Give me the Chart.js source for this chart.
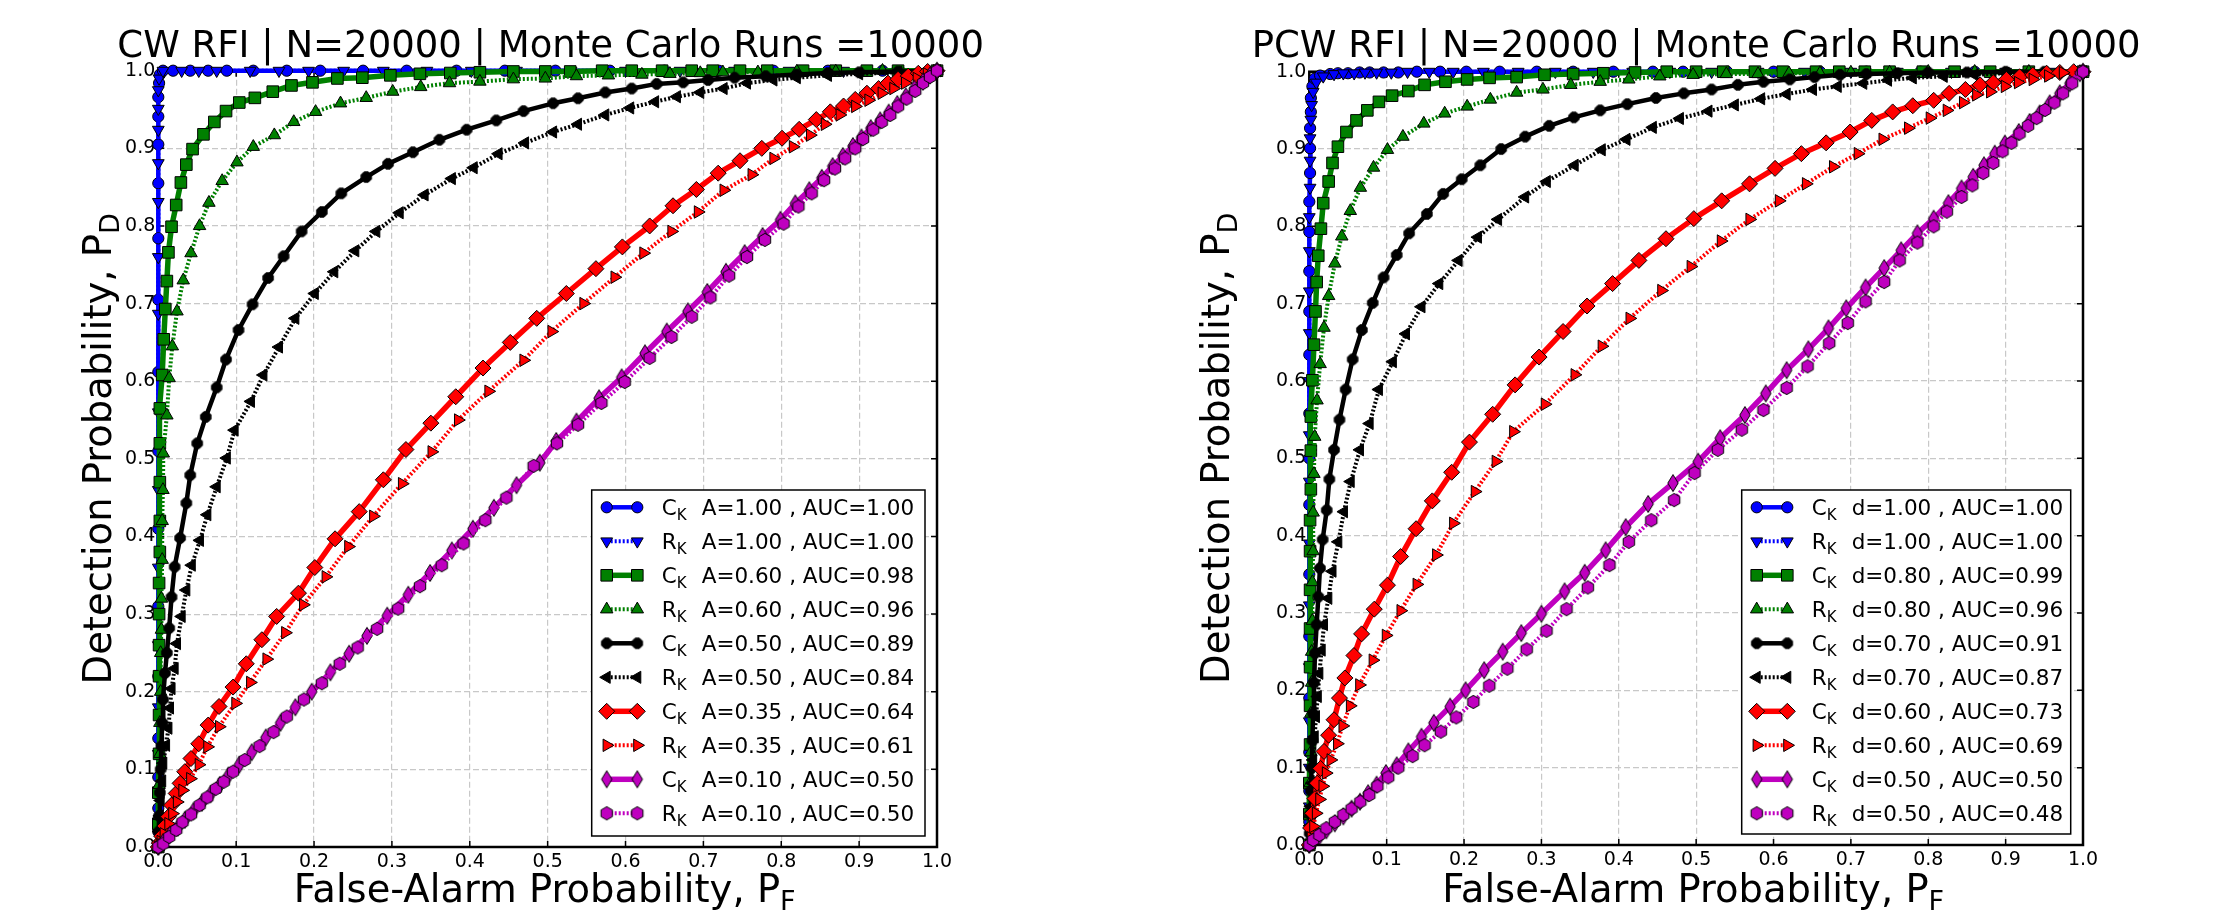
<!DOCTYPE html>
<html>
<head>
<meta charset="utf-8">
<script src="https://cdn.jsdelivr.net/npm/chart.js@4.4.1/dist/chart.umd.min.js"></script>
<style>
  body { margin: 0; background: #fff; }
  canvas { position: absolute; top: 0; }
  #cw { left: 0; }
  #pcw { left: 1110px; }
</style>
</head>
<body>
<canvas id="cw" width="1110" height="916"></canvas>
<canvas id="pcw" width="1110" height="916"></canvas>
<script>
// tick values / labels shared by both axes
const tickValues = [0, 0.1, 0.2, 0.3, 0.4, 0.5, 0.6, 0.7, 0.8, 0.9, 1.0];
const tickLabels = ['0.0', '0.1', '0.2', '0.3', '0.4', '0.5', '0.6', '0.7', '0.8', '0.9', '1.0'];

// ---- CW RFI (left) : [P_F, P_D] pairs ----
const cwCk100 = [[0,0],[0,0.02],[0,0.05],[0,0.09],[0,0.14],[0,0.22],[0,0.31],[0,0.41],[0,0.51],[0,0.612],[0,0.705],[0,0.784],[0,0.855],[0,0.905],[0,0.941],[0,0.966],[0.001,0.984],[0.002,0.995],[0.006,1],[0.019,1],[0.041,1],[0.064,1],[0.088,1],[0.122,1],[0.165,1],[0.208,1],[0.263,1],[0.319,1],[0.383,1],[0.445,1],[0.51,1],[0.58,1],[0.65,1],[0.72,1],[0.79,1],[0.86,1],[0.93,1],[1,1]];
const cwRk100 = [[0,0],[0,0.03],[0,0.07],[0,0.12],[0,0.18],[0,0.26],[0,0.36],[0,0.46],[0,0.56],[0,0.687],[0,0.76],[0,0.831],[0,0.881],[0,0.924],[0,0.951],[0,0.975],[0.001,0.99],[0.006,1],[0.03,1],[0.052,1],[0.075,1],[0.118,1],[0.155,1],[0.193,1],[0.238,1],[0.289,1],[0.345,1],[0.402,1],[0.46,1],[0.53,1],[0.6,1],[0.67,1],[0.74,1],[0.81,1],[0.88,1],[0.95,1],[1,1]];
const cwCk060 = [[0,0],[0,0.03],[0,0.07],[0.001,0.12],[0.001,0.17],[0.001,0.22],[0.001,0.26],[0.001,0.3],[0.001,0.34],[0.002,0.38],[0.002,0.42],[0.002,0.47],[0.002,0.52],[0.002,0.565],[0.005,0.608],[0.007,0.654],[0.009,0.693],[0.011,0.729],[0.013,0.766],[0.017,0.799],[0.023,0.827],[0.029,0.856],[0.036,0.879],[0.044,0.899],[0.058,0.918],[0.072,0.934],[0.087,0.948],[0.104,0.959],[0.124,0.965],[0.147,0.973],[0.171,0.981],[0.198,0.985],[0.23,0.99],[0.262,0.991],[0.298,0.994],[0.336,0.996],[0.375,0.997],[0.413,0.998],[0.456,0.999],[0.497,0.999],[0.529,0.999],[0.57,1],[0.608,1],[0.647,1],[0.685,1],[0.712,1],[0.747,1],[0.782,1],[0.828,1],[0.87,1],[0.91,1],[0.95,1],[1,1]];
const cwRk060 = [[0,0],[0.001,0.04],[0.001,0.08],[0.002,0.12],[0.002,0.16],[0.003,0.2],[0.003,0.25],[0.004,0.28],[0.004,0.32],[0.005,0.37],[0.005,0.42],[0.006,0.46],[0.0064,0.507],[0.011,0.556],[0.014,0.604],[0.018,0.645],[0.024,0.69],[0.032,0.73],[0.042,0.765],[0.053,0.8],[0.065,0.83],[0.082,0.858],[0.101,0.882],[0.122,0.902],[0.149,0.917],[0.174,0.934],[0.202,0.947],[0.234,0.958],[0.267,0.965],[0.301,0.973],[0.337,0.979],[0.374,0.984],[0.413,0.986],[0.456,0.989],[0.497,0.99],[0.537,0.993],[0.578,0.994],[0.621,0.995],[0.657,0.996],[0.696,0.997],[0.725,0.998],[0.77,0.998],[0.82,0.999],[0.87,0.999],[0.93,1],[1,1]];
const cwCk050 = [[0,0],[0.0005,0.02],[0.001,0.04],[0.002,0.07],[0.003,0.1],[0.004,0.13],[0.005,0.16],[0.006,0.19],[0.0086,0.224],[0.011,0.25],[0.014,0.282],[0.017,0.322],[0.021,0.361],[0.028,0.398],[0.036,0.443],[0.041,0.479],[0.05,0.52],[0.061,0.554],[0.075,0.592],[0.087,0.628],[0.103,0.666],[0.121,0.699],[0.141,0.733],[0.161,0.761],[0.184,0.793],[0.21,0.818],[0.235,0.842],[0.267,0.863],[0.295,0.88],[0.327,0.895],[0.361,0.911],[0.396,0.924],[0.434,0.936],[0.469,0.948],[0.507,0.958],[0.539,0.9645],[0.574,0.972],[0.608,0.977],[0.64,0.983],[0.674,0.985],[0.706,0.988],[0.74,0.991],[0.78,0.993],[0.82,0.995],[0.86,0.997],[0.9,0.998],[0.95,0.999],[1,1]];
const cwRk050 = [[0,0],[0.001,0.02],[0.002,0.04],[0.003,0.06],[0.005,0.085],[0.0064,0.108],[0.01,0.131],[0.013,0.153],[0.015,0.179],[0.017,0.204],[0.021,0.23],[0.024,0.262],[0.03,0.297],[0.036,0.331],[0.043,0.363],[0.0535,0.395],[0.063,0.428],[0.075,0.464],[0.088,0.501],[0.098,0.537],[0.119,0.574],[0.135,0.608],[0.155,0.644],[0.176,0.681],[0.201,0.713],[0.226,0.741],[0.253,0.768],[0.28,0.793],[0.31,0.817],[0.342,0.84],[0.377,0.861],[0.405,0.875],[0.437,0.893],[0.471,0.907],[0.507,0.921],[0.539,0.931],[0.574,0.943],[0.606,0.952],[0.638,0.96],[0.666,0.9665],[0.696,0.972],[0.726,0.977],[0.756,0.984],[0.79,0.988],[0.82,0.991],[0.86,0.994],[0.9,0.996],[0.95,0.998],[1,1]];
const cwCk035 = [[0,0],[0.0013,0.005],[0.0043,0.014],[0.0086,0.027],[0.013,0.039],[0.017,0.054],[0.023,0.069],[0.028,0.082],[0.034,0.097],[0.042,0.114],[0.052,0.133],[0.064,0.157],[0.078,0.181],[0.096,0.206],[0.113,0.236],[0.133,0.267],[0.152,0.297],[0.18,0.327],[0.201,0.36],[0.227,0.397],[0.258,0.432],[0.289,0.473],[0.318,0.512],[0.35,0.546],[0.382,0.58],[0.417,0.617],[0.452,0.65],[0.486,0.681],[0.524,0.713],[0.562,0.745],[0.596,0.773],[0.631,0.8],[0.661,0.826],[0.691,0.847],[0.719,0.868],[0.747,0.884],[0.775,0.9],[0.801,0.913],[0.823,0.9245],[0.845,0.937],[0.863,0.947],[0.88,0.9545],[0.895,0.963],[0.91,0.971],[0.925,0.977],[0.937,0.984],[0.95,0.989],[0.963,0.993],[0.976,0.9967],[0.988,0.999],[1,1]];
const cwRk035 = [[0,0],[0.003,0.007],[0.007,0.017],[0.013,0.03],[0.018,0.043],[0.024,0.058],[0.031,0.073],[0.041,0.088],[0.052,0.106],[0.063,0.129],[0.078,0.155],[0.099,0.185],[0.118,0.212],[0.139,0.242],[0.163,0.276],[0.186,0.312],[0.215,0.348],[0.244,0.387],[0.276,0.426],[0.313,0.468],[0.351,0.509],[0.385,0.55],[0.424,0.587],[0.469,0.627],[0.505,0.664],[0.546,0.7],[0.586,0.734],[0.623,0.765],[0.659,0.793],[0.693,0.818],[0.726,0.846],[0.762,0.866],[0.79,0.887],[0.815,0.902],[0.837,0.917],[0.856,0.931],[0.875,0.943],[0.895,0.954],[0.912,0.962],[0.929,0.971],[0.944,0.977],[0.959,0.984],[0.974,0.99],[0.987,0.996],[1,1]];
const cwCk010 = [[0,0],[0.006,0.006],[0.015,0.016],[0.025,0.025],[0.034,0.035],[0.045,0.046],[0.056,0.057],[0.067,0.068],[0.079,0.08],[0.09,0.092],[0.104,0.106],[0.12,0.122],[0.138,0.141],[0.157,0.16],[0.176,0.18],[0.197,0.2],[0.221,0.225],[0.245,0.249],[0.268,0.272],[0.294,0.298],[0.321,0.325],[0.349,0.353],[0.377,0.382],[0.404,0.41],[0.431,0.437],[0.46,0.466],[0.49,0.495],[0.511,0.523],[0.537,0.548],[0.566,0.578],[0.595,0.605],[0.625,0.636],[0.653,0.664],[0.68,0.69],[0.705,0.715],[0.729,0.741],[0.753,0.765],[0.776,0.787],[0.799,0.808],[0.818,0.829],[0.836,0.846],[0.852,0.862],[0.866,0.877],[0.879,0.89],[0.892,0.903],[0.903,0.914],[0.915,0.926],[0.927,0.936],[0.938,0.946],[0.949,0.957],[0.96,0.967],[0.971,0.977],[0.982,0.986],[0.991,0.994],[1,1]];
const cwRk010 = [[0,0],[0.0064,0.0043],[0.014,0.013],[0.023,0.022],[0.031,0.032],[0.042,0.042],[0.053,0.054],[0.063,0.064],[0.074,0.075],[0.084,0.084],[0.096,0.097],[0.111,0.112],[0.13,0.13],[0.148,0.148],[0.165,0.168],[0.187,0.19],[0.21,0.211],[0.233,0.236],[0.256,0.257],[0.281,0.281],[0.308,0.307],[0.336,0.336],[0.364,0.363],[0.392,0.391],[0.42,0.421],[0.447,0.45],[0.482,0.491],[0.512,0.52],[0.539,0.544],[0.569,0.572],[0.599,0.599],[0.631,0.63],[0.659,0.657],[0.685,0.683],[0.709,0.708],[0.733,0.736],[0.756,0.76],[0.779,0.782],[0.803,0.803],[0.822,0.825],[0.839,0.842],[0.855,0.859],[0.869,0.874],[0.882,0.887],[0.895,0.9],[0.905,0.912],[0.918,0.924],[0.929,0.934],[0.94,0.943],[0.95,0.954],[0.961,0.964],[0.972,0.974],[0.982,0.984],[0.991,0.992],[1,1]];

// ---- PCW RFI (right) ----
const pcwCk100 = [[0,0],[0,0.03],[0,0.07],[0,0.12],[0,0.19],[0,0.27],[0,0.35],[0,0.44],[0,0.5],[0,0.558],[0,0.634],[0,0.69],[0,0.742],[0,0.793],[0,0.832],[0.001,0.869],[0.001,0.901],[0.001,0.927],[0.002,0.948],[0.002,0.966],[0.004,0.981],[0.007,0.991],[0.014,0.995],[0.027,0.997],[0.037,0.998],[0.05,0.998],[0.065,0.999],[0.078,0.999],[0.096,0.999],[0.115,0.999],[0.139,1],[0.169,1],[0.203,1],[0.246,1],[0.294,1],[0.341,1],[0.393,1],[0.444,1],[0.483,1],[0.54,1],[0.6,1],[0.66,1],[0.72,1],[0.79,1],[0.86,1],[0.93,1],[1,1]];
const pcwRk100 = [[0,0],[0,0.05],[0,0.1],[0,0.16],[0,0.23],[0,0.31],[0,0.39],[0,0.47],[0,0.53],[0,0.6],[0,0.662],[0,0.716],[0,0.768],[0,0.812],[0.001,0.85],[0.001,0.885],[0.001,0.914],[0.002,0.938],[0.003,0.957],[0.005,0.974],[0.009,0.986],[0.018,0.994],[0.032,0.997],[0.044,0.998],[0.058,0.998],[0.072,0.999],[0.087,0.999],[0.106,0.999],[0.127,1],[0.155,1],[0.186,1],[0.225,1],[0.27,1],[0.318,1],[0.367,1],[0.418,1],[0.466,1],[0.52,1],[0.58,1],[0.64,1],[0.7,1],[0.76,1],[0.83,1],[0.9,1],[0.96,1],[1,1]];
const pcwCk080 = [[0,0],[0,0.04],[0,0.08],[0.001,0.13],[0.001,0.18],[0.001,0.23],[0.001,0.28],[0.001,0.33],[0.001,0.38],[0.001,0.42],[0.002,0.46],[0.002,0.51],[0.002,0.554],[0.004,0.601],[0.006,0.647],[0.008,0.69],[0.0095,0.728],[0.0116,0.762],[0.015,0.797],[0.018,0.83],[0.025,0.858],[0.03,0.882],[0.037,0.903],[0.048,0.922],[0.061,0.937],[0.075,0.95],[0.09,0.961],[0.107,0.969],[0.128,0.975],[0.149,0.983],[0.176,0.987],[0.204,0.99],[0.233,0.992],[0.268,0.993],[0.304,0.996],[0.341,0.997],[0.38,0.998],[0.421,0.999],[0.462,1],[0.5,1],[0.535,1],[0.576,1],[0.612,1],[0.655,1],[0.685,1],[0.718,1],[0.75,1],[0.793,1],[0.834,1],[0.88,1],[0.93,1],[1,1]];
const pcwRk080 = [[0,0],[0.001,0.04],[0.001,0.08],[0.002,0.12],[0.002,0.17],[0.003,0.21],[0.003,0.25],[0.004,0.29],[0.004,0.34],[0.005,0.38],[0.005,0.43],[0.006,0.48],[0.007,0.528],[0.01,0.575],[0.014,0.622],[0.019,0.669],[0.025,0.71],[0.033,0.752],[0.042,0.787],[0.053,0.82],[0.066,0.85],[0.083,0.876],[0.101,0.899],[0.121,0.916],[0.148,0.933],[0.175,0.946],[0.204,0.955],[0.234,0.964],[0.268,0.973],[0.302,0.977],[0.338,0.983],[0.376,0.987],[0.413,0.99],[0.453,0.994],[0.496,0.996],[0.539,0.997],[0.58,0.997],[0.62,0.998],[0.66,0.998],[0.7,0.999],[0.75,0.999],[0.8,1],[0.86,1],[0.93,1],[1,1]];
const pcwCk070 = [[0,0],[0.0005,0.015],[0.001,0.04],[0.002,0.07],[0.003,0.1],[0.004,0.135],[0.005,0.17],[0.006,0.21],[0.0074,0.248],[0.0095,0.285],[0.0117,0.321],[0.0138,0.358],[0.0173,0.395],[0.0225,0.433],[0.0259,0.473],[0.032,0.511],[0.039,0.55],[0.047,0.589],[0.056,0.628],[0.068,0.666],[0.082,0.701],[0.096,0.734],[0.113,0.763],[0.129,0.791],[0.152,0.816],[0.173,0.842],[0.197,0.861],[0.221,0.879],[0.248,0.9],[0.279,0.916],[0.31,0.93],[0.342,0.941],[0.376,0.95],[0.411,0.958],[0.448,0.966],[0.484,0.972],[0.52,0.977],[0.554,0.983],[0.587,0.987],[0.621,0.99],[0.653,0.993],[0.686,0.996],[0.72,0.997],[0.76,0.998],[0.8,0.999],[0.85,0.999],[0.9,1],[0.95,1],[1,1]];
const pcwRk070 = [[0,0],[0.001,0.025],[0.002,0.05],[0.004,0.08],[0.005,0.11],[0.007,0.14],[0.0086,0.166],[0.011,0.192],[0.013,0.222],[0.016,0.252],[0.019,0.285],[0.0246,0.319],[0.03,0.354],[0.0375,0.392],[0.0448,0.431],[0.0535,0.47],[0.0655,0.511],[0.078,0.545],[0.09,0.589],[0.108,0.625],[0.125,0.661],[0.145,0.696],[0.168,0.726],[0.193,0.756],[0.218,0.786],[0.244,0.809],[0.279,0.838],[0.307,0.858],[0.343,0.879],[0.378,0.899],[0.41,0.9125],[0.444,0.928],[0.479,0.9395],[0.516,0.949],[0.55,0.957],[0.584,0.965],[0.617,0.971],[0.651,0.977],[0.683,0.981],[0.716,0.985],[0.748,0.989],[0.78,0.992],[0.82,0.994],[0.86,0.996],[0.9,0.998],[0.95,0.999],[1,1]];
const pcwCk060 = [[0,0],[0.0017,0.022],[0.0043,0.041],[0.0073,0.06],[0.0103,0.08],[0.0146,0.099],[0.019,0.121],[0.025,0.142],[0.032,0.162],[0.039,0.19],[0.046,0.216],[0.0577,0.245],[0.0676,0.273],[0.084,0.305],[0.101,0.336],[0.118,0.373],[0.138,0.409],[0.159,0.445],[0.184,0.482],[0.207,0.521],[0.237,0.557],[0.266,0.595],[0.297,0.631],[0.328,0.664],[0.359,0.697],[0.392,0.726],[0.426,0.756],[0.461,0.784],[0.497,0.81],[0.533,0.833],[0.569,0.855],[0.602,0.875],[0.636,0.894],[0.668,0.908],[0.699,0.922],[0.727,0.937],[0.754,0.948],[0.78,0.956],[0.807,0.963],[0.827,0.972],[0.848,0.977],[0.867,0.983],[0.884,0.986],[0.901,0.99],[0.918,0.9935],[0.935,0.9957],[0.953,0.998],[0.97,0.999],[0.988,1],[1,1]];
const pcwRk060 = [[0,0],[0.002,0.0093],[0.0052,0.024],[0.0086,0.041],[0.013,0.059],[0.0172,0.076],[0.0215,0.093],[0.0276,0.11],[0.036,0.131],[0.043,0.154],[0.0526,0.18],[0.0646,0.207],[0.082,0.239],[0.099,0.271],[0.118,0.303],[0.1388,0.337],[0.164,0.375],[0.186,0.416],[0.214,0.457],[0.241,0.496],[0.2636,0.5345],[0.3045,0.57],[0.343,0.608],[0.378,0.645],[0.414,0.681],[0.455,0.717],[0.493,0.748],[0.532,0.781],[0.569,0.809],[0.607,0.833],[0.642,0.855],[0.677,0.877],[0.709,0.894],[0.741,0.9126],[0.774,0.927],[0.802,0.94],[0.824,0.95],[0.845,0.96],[0.862,0.97],[0.88,0.974],[0.899,0.981],[0.916,0.986],[0.935,0.99],[0.955,0.9945],[0.974,0.9987],[1,1]];
const pcwCk050 = [[0,0],[0.005,0.004],[0.013,0.011],[0.022,0.019],[0.033,0.028],[0.044,0.037],[0.0547,0.047],[0.0655,0.056],[0.076,0.067],[0.087,0.078],[0.099,0.093],[0.113,0.103],[0.128,0.121],[0.145,0.14],[0.161,0.158],[0.182,0.179],[0.202,0.2],[0.226,0.226],[0.25,0.25],[0.274,0.274],[0.3,0.299],[0.33,0.328],[0.356,0.352],[0.383,0.381],[0.409,0.411],[0.438,0.441],[0.47,0.468],[0.5026,0.4957],[0.531,0.526],[0.563,0.556],[0.59,0.584],[0.617,0.614],[0.645,0.641],[0.671,0.668],[0.694,0.694],[0.719,0.721],[0.743,0.746],[0.765,0.769],[0.786,0.791],[0.807,0.81],[0.826,0.83],[0.843,0.849],[0.858,0.864],[0.872,0.879],[0.886,0.894],[0.899,0.907],[0.917,0.922],[0.931,0.935],[0.944,0.946],[0.957,0.959],[0.97,0.972],[0.983,0.985],[0.996,0.998],[1,1]];
const pcwRk050 = [[0,0],[0.005,0.0065],[0.013,0.013],[0.022,0.0216],[0.033,0.03],[0.044,0.039],[0.0547,0.047],[0.066,0.056],[0.0775,0.0647],[0.088,0.076],[0.102,0.0875],[0.115,0.1],[0.1335,0.115],[0.149,0.129],[0.17,0.1466],[0.19,0.165],[0.212,0.185],[0.2326,0.206],[0.256,0.228],[0.281,0.253],[0.3066,0.277],[0.3325,0.305],[0.36,0.333],[0.388,0.362],[0.413,0.392],[0.442,0.42],[0.4716,0.446],[0.498,0.481],[0.528,0.511],[0.559,0.537],[0.587,0.5625],[0.617,0.591],[0.644,0.619],[0.672,0.649],[0.696,0.675],[0.719,0.703],[0.743,0.728],[0.763,0.756],[0.786,0.779],[0.807,0.8],[0.824,0.819],[0.843,0.838],[0.857,0.853],[0.871,0.869],[0.884,0.882],[0.896,0.897],[0.9075,0.908],[0.918,0.92],[0.929,0.93],[0.94,0.94],[0.951,0.9505],[0.963,0.96],[0.974,0.972],[0.986,0.985],[1,1]];

// legend values
const cwA = ['1.00', '1.00', '0.60', '0.60', '0.50', '0.50', '0.35', '0.35', '0.10', '0.10'];
const cwAuc = ['1.00', '1.00', '0.98', '0.96', '0.89', '0.84', '0.64', '0.61', '0.50', '0.50'];
const pcwD = ['1.00', '1.00', '0.80', '0.80', '0.70', '0.70', '0.60', '0.60', '0.50', '0.50'];
const pcwAuc = ['1.00', '1.00', '0.99', '0.96', '0.91', '0.87', '0.73', '0.69', '0.50', '0.48'];
const detector = ['C', 'R', 'C', 'R', 'C', 'R', 'C', 'R', 'C', 'R'];

const FONT = '"DejaVu Sans", "Bitstream Vera Sans", sans-serif';
Chart.defaults.font.family = FONT;
Chart.defaults.font.size = 19;
Chart.defaults.color = '#000';

// custom marker shapes (octagon, hexagon, thin diamond) as little canvases
function shapeCanvas(w, h, fill, path) {
  const c = document.createElement('canvas');
  c.width = w; c.height = h;
  const g = c.getContext('2d');
  g.fillStyle = fill; g.strokeStyle = '#000'; g.lineWidth = 1;
  g.beginPath(); path(g, w / 2, h / 2); g.closePath();
  g.fill(); g.stroke();
  return c;
}
const poly = (n, r, start) => (g, cx, cy) => {
  for (let i = 0; i < n; i++) {
    const a = start + i * 2 * Math.PI / n;
    const px = cx + r * Math.cos(a), py = cy + r * Math.sin(a);
    if (i) g.lineTo(px, py); else g.moveTo(px, py);
  }
};
const octagon = shapeCanvas(14, 14, '#000', poly(8, 5.6, Math.PI / 8));
const hexagon = shapeCanvas(16, 16, '#bf00bf', poly(6, 6.6, -Math.PI / 2));
const thinDiamond = shapeCanvas(14, 20, '#bf00bf', (g, cx, cy) => {
  g.moveTo(cx, cy - 8.5); g.lineTo(cx + 5.2, cy); g.lineTo(cx, cy + 8.5); g.lineTo(cx - 5.2, cy);
});

const dotted = [2, 2];
const styles = [
  { color: '#0000ff', marker: 'circle', r: 5.6, rot: 0, lw: 4.5, dash: [] },
  { color: '#0000ff', marker: 'triangle', r: 6.8, rot: 180, lw: 4, dash: dotted },
  { color: '#008000', marker: 'rect', r: 8.2, rot: 0, lw: 5.5, dash: [] },
  { color: '#008000', marker: 'triangle', r: 7.2, rot: 0, lw: 4, dash: dotted },
  { color: '#000000', marker: octagon, r: 6, rot: 0, lw: 4.5, dash: [] },
  { color: '#000000', marker: 'triangle', r: 7, rot: 270, lw: 4, dash: dotted },
  { color: '#ff0000', marker: 'rectRot', r: 8, rot: 0, lw: 5.5, dash: [] },
  { color: '#ff0000', marker: 'triangle', r: 7.2, rot: 90, lw: 4, dash: dotted },
  { color: '#bf00bf', marker: thinDiamond, r: 7, rot: 0, lw: 5.5, dash: [] },
  { color: '#bf00bf', marker: hexagon, r: 7, rot: 0, lw: 4, dash: dotted },
];

// frame, inner ticks, title, axis labels and legend
const decor = {
  id: 'decor',
  beforeDatasetsDraw(chart) {
    const { ctx, chartArea: a, scales: { x, y } } = chart;
    ctx.save();
    ctx.strokeStyle = '#000';
    ctx.lineWidth = 1.5;
    ctx.beginPath();
    tickValues.forEach(v => {
      const px = x.getPixelForValue(v), py = y.getPixelForValue(v);
      ctx.moveTo(px, a.bottom); ctx.lineTo(px, a.bottom - 6);
      ctx.moveTo(px, a.top); ctx.lineTo(px, a.top + 6);
      ctx.moveTo(a.left, py); ctx.lineTo(a.left + 6, py);
      ctx.moveTo(a.right, py); ctx.lineTo(a.right - 6, py);
    });
    ctx.stroke();
    ctx.lineWidth = 2.5;
    ctx.strokeRect(a.left, a.top, a.right - a.left, a.bottom - a.top);
    ctx.restore();
  },
  afterDatasetsDraw(chart, args, o) {
    const ctx = chart.ctx;
    const b = o.box;
    ctx.save();
    ctx.fillStyle = '#fff';
    ctx.fillRect(b.x, b.y, b.w, b.h);
    ctx.strokeStyle = '#000';
    ctx.lineWidth = 1.5;
    ctx.strokeRect(b.x, b.y, b.w, b.h);
    o.labels.forEach((lab, i) => {
      const s = styles[i];
      const cy = b.y + 17.3 + i * 34;
      const m1 = b.x + 15, m2 = b.x + 45.6;
      ctx.save();
      ctx.strokeStyle = s.color;
      ctx.lineWidth = s.lw;
      ctx.setLineDash(s.dash);
      ctx.beginPath(); ctx.moveTo(m1, cy); ctx.lineTo(m2, cy); ctx.stroke();
      ctx.setLineDash([]);
      ctx.fillStyle = s.color;
      ctx.strokeStyle = '#000';
      ctx.lineWidth = 1;
      [m1, m2].forEach(mx => Chart.helpers.drawPoint(ctx, { pointStyle: s.marker, radius: s.r, rotation: s.rot, borderWidth: 1 }, mx, cy));
      ctx.restore();
      ctx.fillStyle = '#000';
      ctx.textAlign = 'left';
      ctx.textBaseline = 'alphabetic';
      ctx.font = '21.5px ' + FONT;
      ctx.fillText(detector[i], b.x + 70, cy + 7.5);
      const cw = ctx.measureText(detector[i]).width;
      ctx.fillText(lab, b.x + 110, cy + 7.5);
      ctx.font = '15px ' + FONT;
      ctx.fillText('K', b.x + 70 + cw, cy + 12.5);
    });
    ctx.restore();
  },
  afterDraw(chart, args, o) {
    const { ctx, chartArea: a } = chart;
    const cx = (a.left + a.right) / 2, cy = (a.top + a.bottom) / 2;
    ctx.save();
    ctx.fillStyle = '#000';
    ctx.textBaseline = 'alphabetic';
    ctx.textAlign = 'center';
    ctx.font = '37px ' + FONT;
    ctx.fillText(o.title, cx + o.titleShift, 57);
    // label with subscript, centred on the axis
    const withSub = (main, sub, x0, y0) => {
      ctx.font = '38.5px ' + FONT;
      const w1 = ctx.measureText(main).width;
      ctx.font = '27px ' + FONT;
      const w2 = ctx.measureText(sub).width;
      const left = x0 - (w1 + w2) / 2;
      ctx.textAlign = 'left';
      ctx.font = '38.5px ' + FONT;
      ctx.fillText(main, left, y0);
      ctx.font = '27px ' + FONT;
      ctx.fillText(sub, left + w1, y0 + 8);
    };
    withSub('False-Alarm Probability, P', 'F', cx - 3, 902);
    ctx.translate(o.yLabelX, cy - 10);
    ctx.rotate(-Math.PI / 2);
    withSub('Detection Probability, P', 'D', 0, 0);
    ctx.restore();
  }
};

function axis(size, pad) {
  return {
    type: 'linear',
    min: 0,
    max: 1,
    afterFit: s => { if (s.isHorizontal()) s.height = size; else s.width = size; },
    afterBuildTicks: s => { s.ticks = tickValues.map(v => ({ value: v })); },
    ticks: {
      autoSkip: false,
      maxRotation: 0,
      padding: pad,
      color: '#000',
      font: { family: FONT, size: 19 },
      callback: (v, i) => tickLabels[i],
    },
    grid: { color: '#c8c8c8', lineWidth: 1.2, drawTicks: false },
    border: { display: false, dash: [6, 3] },
  };
}

function makeChart(id, series, sym, vals, aucs, title, titleShift, padding, box, yLabelX) {
  const datasets = series.map((pts, i) => ({
    data: pts.map(p => ({ x: p[0], y: p[1] })),
    order: series.length - i,
    borderColor: styles[i].color,
    borderWidth: styles[i].lw,
    borderDash: styles[i].dash,
    borderJoinStyle: 'round',
    pointStyle: styles[i].marker,
    pointRadius: styles[i].r,
    pointRotation: styles[i].rot,
    pointBackgroundColor: styles[i].color,
    pointBorderColor: '#000',
    pointBorderWidth: 1,
    tension: 0,
    fill: false,
    clip: false,
  }));
  const labels = vals.map((v, i) => `${sym}=${v} , AUC=${aucs[i]}`);
  return new Chart(document.getElementById(id), {
    type: 'line',
    data: { datasets },
    options: {
      responsive: false,
      animation: false,
      devicePixelRatio: 1,
      events: [],
      layout: { padding },
      plugins: {
        legend: { display: false },
        tooltip: { enabled: false },
        decor: { title, titleShift, labels, box, yLabelX },
      },
      scales: { x: axis(50, 4), y: axis(60, 3) },
    },
    plugins: [decor],
  });
}

makeChart('cw', [cwCk100, cwRk100, cwCk060, cwRk060, cwCk050, cwRk050, cwCk035, cwRk035, cwCk010, cwRk010],
  'A', cwA, cwAuc, 'CW RFI | N=20000 | Monte Carlo Runs =10000', 3,
  { left: 98.3, right: 173, top: 70.7, bottom: 19 },
  { x: 591.7, y: 490, w: 333.3, h: 346 }, 111);

makeChart('pcw', [pcwCk100, pcwRk100, pcwCk080, pcwRk080, pcwCk070, pcwRk070, pcwCk060, pcwRk060, pcwCk050, pcwRk050],
  'd', pcwD, pcwAuc, 'PCW RFI | N=20000 | Monte Carlo Runs =10000', 0,
  { left: 139.3, right: 137, top: 71.7, bottom: 21 },
  { x: 631.7, y: 490, w: 329, h: 344 }, 119);
</script>
</body>
</html>
